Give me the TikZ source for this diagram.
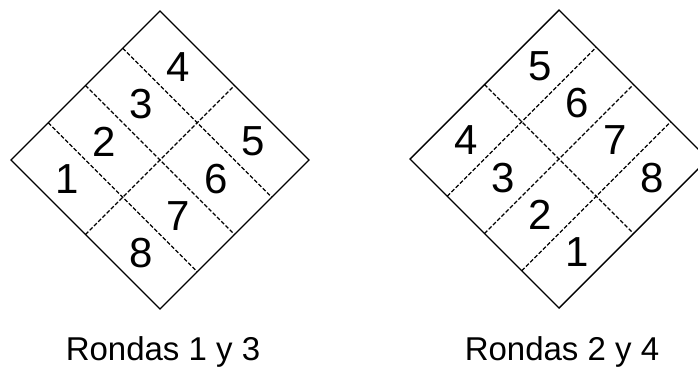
\documentclass[tikz,border=0pt]{standalone}
\usepackage{fontspec}
\setmainfont{Liberation Sans}

\tikzset{
	frame/.style={black, line width=1.4pt, line join=miter},
	cut/.style={black, line width=1.3pt, dash pattern=on 4pt off 2pt},
	num/.style={font=\fontsize{42}{48}\selectfont, inner sep=0pt},
	caption/.style={font=\fontsize{33}{40}\selectfont, inner sep=0pt, anchor=base}
}

\begin{document}
\begin{tikzpicture}[x=1pt, y=-1pt]
	\useasboundingbox (0,0) rectangle (698,370);
	% left: rounds 1 and 3
	\begin{scope}[shift={(11,160)}, x={(149pt,149pt)}, y={(149pt,-149pt)}]
		\draw[frame] (0,0) -- (1,0) -- (1,1) -- (0,1) -- cycle;
		\foreach \u in {0.25,0.5,0.75} {
			\draw[cut] (\u,0) -- (\u,1);
		}
		\draw[cut] (0,0.5) -- (1,0.5);
		\foreach \n/\u/\v in {1/0.125/0.25, 2/0.375/0.25, 3/0.625/0.25, 4/0.875/0.25,
			5/0.875/0.75, 6/0.625/0.75, 7/0.375/0.75, 8/0.125/0.75} {
			\node[num] (left\n) at (\u,\v) {\n};
		}
	\end{scope}
	\node[caption] (capleft) at (163,360.7) {Rondas 1 y 3};
	% right: rounds 2 and 4
	\begin{scope}[shift={(410,159)}, x={(149pt,149pt)}, y={(149pt,-149pt)}]
		\draw[frame] (0,0) -- (1,0) -- (1,1) -- (0,1) -- cycle;
		\foreach \v in {0.25,0.5,0.75} {
			\draw[cut] (0,\v) -- (1,\v);
		}
		\draw[cut] (0.5,0) -- (0.5,1);
		\foreach \n/\u/\v in {4/0.25/0.125, 3/0.25/0.375, 2/0.25/0.625, 1/0.25/0.875,
			5/0.75/0.125, 6/0.75/0.375, 7/0.75/0.625, 8/0.75/0.875} {
			\node[num] (right\n) at (\u,\v) {\n};
		}
	\end{scope}
	\node[caption] (capright) at (562,360.7) {Rondas 2 y 4};
\end{tikzpicture}
\end{document}
